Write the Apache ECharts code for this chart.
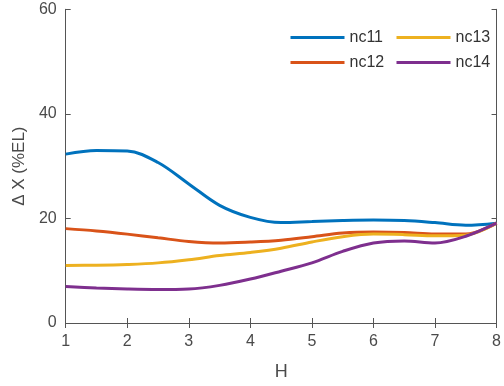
<!DOCTYPE html>
<html><head><meta charset="utf-8">
<script src="https://cdn.jsdelivr.net/npm/echarts@6/dist/echarts.min.js"></script>
<style>html,body{margin:0;padding:0;background:#fff}#c{width:504px;height:386px}</style>
</head><body><div id="c"></div>
<script>
const H = [1,1.5,2,2.5,3,3.5,4,4.5,5,5.5,6,6.5,7,7.5,8];
const nc11 = [32.3,33.0,32.9,30.7,26.6,22.5,20.2,19.2,19.4,19.6,19.7,19.6,19.2,18.7,19.1];
const nc12 = [18.05,17.6,17.0,16.3,15.6,15.3,15.5,15.85,16.5,17.2,17.4,17.3,17.0,17.0,19.1];
const nc13 = [11.0,11.05,11.2,11.5,12.1,12.9,13.5,14.3,15.5,16.5,17.0,16.9,16.7,16.8,19.1];
const nc14 = [7.0,6.7,6.5,6.4,6.5,7.2,8.4,9.9,11.5,13.7,15.3,15.7,15.3,16.6,19.1];
const xTicks = [1,2,3,4,5,6,7,8];
const yTicks = [0,20,40,60];
const names = ['nc11','nc12','nc13','nc14'];
const colors = ['#0072BD','#D95319','#EDB120','#7E2F8E'];
const values = [nc11,nc12,nc13,nc14];

const axisCol = '#555';
const txtCol = '#4a4a4a';
const font = 'Arial, "Liberation Sans", sans-serif';

const chart = echarts.init(document.getElementById('c'));
chart.setOption({
  animation: false,
  color: colors,
  grid: {left: 65.7, right: 2.3, top: 9.3, bottom: 58.3, containLabel: false},
  legend: [
    {data: ['nc11','nc12'], orient: 'vertical', left: 285.5, top: 24.5, itemWidth: 54, itemHeight: 3, icon: 'rect', itemGap: 9,
     textStyle: {fontSize: 16, color: '#333', fontFamily: font}},
    {data: ['nc13','nc14'], orient: 'vertical', left: 391.5, top: 24.5, itemWidth: 54, itemHeight: 3, icon: 'rect', itemGap: 9,
     textStyle: {fontSize: 16, color: '#333', fontFamily: font}}
  ],
  xAxis: [
    {type: 'value', min: 1, max: 8, interval: 1, position: 'bottom',
     name: 'H', nameLocation: 'middle', nameGap: 40, nameTextStyle: {fontSize: 18, color: txtCol, fontFamily: font},
     axisLine: {show: true, lineStyle: {color: axisCol, width: 1}},
     axisTick: {show: true, inside: true, length: 5, lineStyle: {color: axisCol}},
     axisLabel: {fontSize: 16, color: txtCol, margin: 11, fontFamily: font, formatter: v => xTicks.includes(v) ? String(v) : ''},
     splitLine: {show: false}},
    {type: 'value', min: 1, max: 8, interval: 1, position: 'top',
     axisLine: {show: true, lineStyle: {color: axisCol, width: 1}},
     axisTick: {show: true, inside: true, length: 5, lineStyle: {color: axisCol}},
     axisLabel: {show: false}, splitLine: {show: false}}
  ],
  yAxis: [
    {type: 'value', min: 0, max: 60, interval: 20, position: 'left',
     name: 'Δ X (%EL)', nameLocation: 'middle', nameGap: 29, nameTextStyle: {fontSize: 17, color: txtCol, fontFamily: font},
     axisLine: {show: true, lineStyle: {color: axisCol, width: 1}},
     axisTick: {show: true, inside: true, length: 5, lineStyle: {color: axisCol}},
     axisLabel: {fontSize: 16, color: txtCol, margin: 9, fontFamily: font, formatter: v => yTicks.includes(v) ? String(v) : ''},
     splitLine: {show: false}},
    {type: 'value', min: 0, max: 60, interval: 20, position: 'right',
     axisLine: {show: true, lineStyle: {color: axisCol, width: 1}},
     axisTick: {show: true, inside: true, length: 5, lineStyle: {color: axisCol}},
     axisLabel: {show: false}, splitLine: {show: false}}
  ],
  series: names.map((n, i) => ({
    name: n, type: 'line', smooth: 0.35, showSymbol: false, symbol: 'none',
    xAxisIndex: 0, yAxisIndex: 0,
    lineStyle: {width: 3, color: colors[i]},
    itemStyle: {color: colors[i]},
    data: H.map((h, k) => [h, values[i][k]])
  }))
});
</script></body></html>
